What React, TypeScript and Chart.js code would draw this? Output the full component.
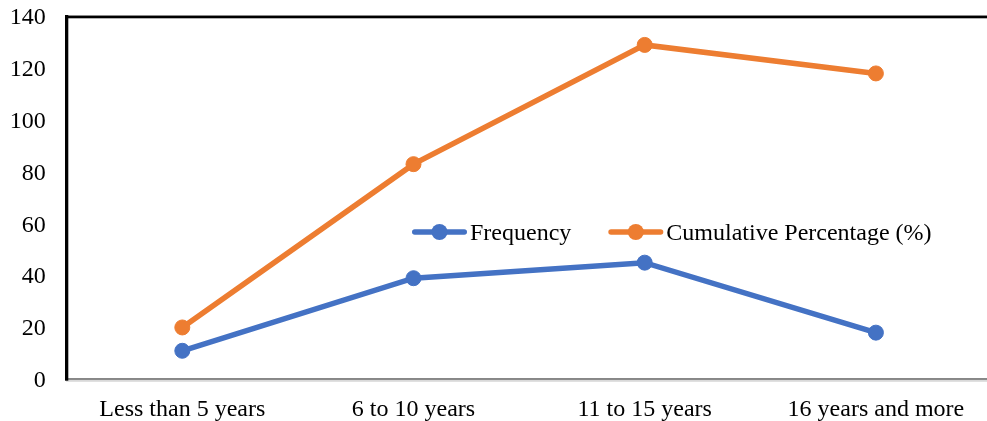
import { useEffect, useRef } from "react";
import { Chart, registerables } from "chart.js";

Chart.register(...registerables);

// Years-of-experience groups and the two plotted series
const categories = ["Less than 5 years", "6 to 10 years", "11 to 15 years", "16 years and more"];
const frequency = [11, 39, 45, 18];
const cumulativePercentage = [20, 83, 129, 118];
const seriesNames = ["Frequency", "Cumulative Percentage (%)"];
const seriesColors = ["#4472C4", "#ED7D31"];
const yMin = 0;
const yMax = 140;
const yStep = 20;

const FONT_FAMILY = '"Liberation Serif", "Times New Roman", serif';

// Frame: black top and left edges, bevelled grey baseline
const framePlugin = {
  id: "frame",
  beforeDatasetsDraw(chart: Chart) {
    const { ctx, chartArea, width } = chart;
    const { left, top, bottom } = chartArea;
    ctx.save();
    // top edge
    ctx.fillStyle = "#8a8a8a";
    ctx.fillRect(left - 1.7, top - 1.4, width, 1);
    ctx.fillStyle = "#000000";
    ctx.fillRect(left - 1.7, top - 0.4, width, 2.3);
    // baseline
    ctx.fillStyle = "#555555";
    ctx.fillRect(left - 0.7, bottom - 1, width, 1.5);
    ctx.fillStyle = "#d9d9d9";
    ctx.fillRect(left - 0.7, bottom + 0.5, width, 2);
    // left edge
    ctx.fillStyle = "#000000";
    ctx.fillRect(left - 1.7, top - 1.4, 3.3, bottom - top + 2.8);
    ctx.restore();
  },
};

// Legend drawn inside the plot area
const innerLegendPlugin = {
  id: "innerLegend",
  afterDatasetsDraw(chart: Chart) {
    const { ctx } = chart;
    const y = 232;
    const lineLen = 55;
    const textGap = 3;
    const itemGap = 37;
    let x = 412;
    ctx.save();
    ctx.font = `24px ${FONT_FAMILY}`;
    ctx.textBaseline = "alphabetic";
    ctx.textAlign = "left";
    chart.data.datasets.forEach((ds: any) => {
      const color = ds.borderColor as string;
      ctx.strokeStyle = color;
      ctx.lineWidth = 5.5;
      ctx.lineCap = "round";
      ctx.beginPath();
      ctx.moveTo(x + 2.75, y);
      ctx.lineTo(x + lineLen - 2.75, y);
      ctx.stroke();
      ctx.fillStyle = color;
      ctx.beginPath();
      ctx.arc(x + lineLen / 2, y, 8, 0, Math.PI * 2);
      ctx.fill();
      const tx = x + lineLen + textGap;
      ctx.fillStyle = "#000000";
      ctx.fillText(ds.label, tx, y + 7.5);
      x = tx + ctx.measureText(ds.label).width + itemGap;
    });
    ctx.restore();
  },
};

export default function App() {
  const canvasRef = useRef<HTMLCanvasElement | null>(null);

  useEffect(() => {
    if (!canvasRef.current) return;
    const makeDataset = (label: string, data: number[], color: string) => ({
      label,
      data,
      borderColor: color,
      backgroundColor: color,
      borderWidth: 5.5,
      pointRadius: 7.5,
      pointBorderWidth: 1,
      pointBackgroundColor: color,
      pointBorderColor: color,
      tension: 0,
    });
    const chart = new Chart(canvasRef.current, {
      type: "line",
      data: {
        labels: categories,
        datasets: [
          makeDataset(seriesNames[0], frequency, seriesColors[0]),
          makeDataset(seriesNames[1], cumulativePercentage, seriesColors[1]),
        ],
      },
      options: {
        responsive: false,
        animation: false,
        layout: { padding: { top: 16.4, right: 0, bottom: 0, left: 0 } },
        plugins: {
          legend: { display: false },
          tooltip: { enabled: false },
        },
        scales: {
          x: {
            type: "category",
            offset: true,
            grid: { display: false, drawTicks: false },
            border: { display: false },
            ticks: {
              color: "#000000",
              padding: 15.6,
              maxRotation: 0,
              autoSkip: false,
              font: { family: FONT_FAMILY, size: 24 },
            },
            afterFit(scale: any) {
              scale.height = 41.7;
              scale.paddingLeft = 0;
              scale.paddingRight = 0;
            },
          },
          y: {
            min: yMin,
            max: yMax,
            grid: { display: false, drawTicks: false },
            border: { display: false },
            ticks: {
              stepSize: yStep,
              color: "#000000",
              padding: 21,
              labelOffset: 1.5,
              font: { family: FONT_FAMILY, size: 24 },
            },
            afterFit(scale: any) {
              scale.width = 66.7;
              scale.paddingTop = 0;
              scale.paddingBottom = 0;
            },
          },
        },
      },
      plugins: [framePlugin, innerLegendPlugin],
    });
    return () => chart.destroy();
  }, []);

  return (
    <div
      style={{
        position: "fixed",
        top: 0,
        left: 0,
        width: 987,
        height: 421,
        overflow: "hidden",
        background: "#ffffff",
      }}
    >
      <canvas ref={canvasRef} width={1000} height={421} style={{ display: "block" }} />
    </div>
  );
}
